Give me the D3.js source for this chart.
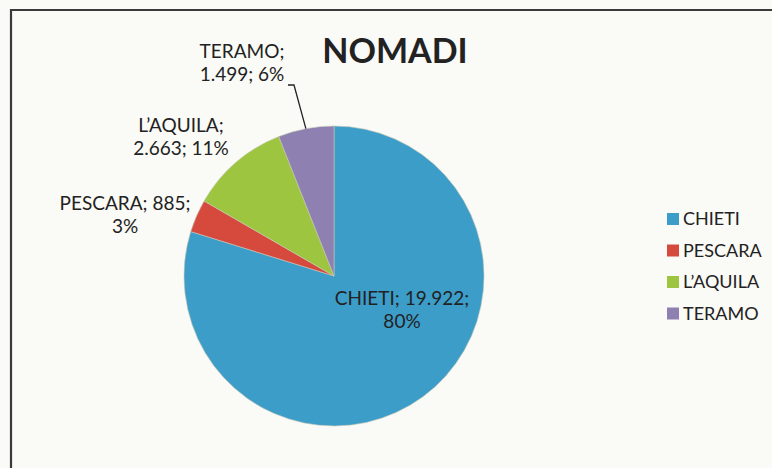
<!DOCTYPE html>
<html>
<head>
<meta charset="utf-8">
<script src="https://cdn.jsdelivr.net/npm/d3@7/dist/d3.min.js"></script>
<style>
  body { margin: 0; background: #fafaf6; }
  svg { display: block; }
  text { font-family: Lato, "Open Sans", sans-serif; fill: #222; }
</style>
</head>
<body>
<div id="the_chart"></div>
<script>
// data
var provinces = ["CHIETI", "PESCARA", "L\u2019AQUILA", "TERAMO"];
var counts = [19922, 885, 2663, 1499];
var percents = [80, 3, 11, 6]; // as printed on the chart
var colors = ["#3c9dc9", "#d64a3e", "#9ec53f", "#8e80b0"];

var w = 772;
var h = 468;
var cx = 334, cy = 276, r = 150;

// label anchors (centre of the text block, first baseline)
var labelPos = [
    { x: 402, y: 305 },
    { x: 125, y: 210 },
    { x: 181, y: 132 },
    { x: 242, y: 58 }
];

var it = d3.formatLocale({ decimal: ",", thousands: ".", grouping: [3], currency: ["", "\u20ac"] });
var fmt = it.format(",d");

var dataset = provinces.map(function (p, i) {
    return { name: p, value: counts[i], pct: percents[i], color: colors[i] };
});

var svg = d3.select("#the_chart")
    .append("svg")
    .attr("width", w)
    .attr("height", h);

// frame of the chart area (cut off by the scan)
svg.append("path")
    .attr("d", "M11," + h + "V10H" + w)
    .attr("fill", "none")
    .attr("stroke", "#3a3a3a")
    .attr("stroke-width", 2.2);

svg.append("text")
    .attr("x", 395)
    .attr("y", 63)
    .attr("text-anchor", "middle")
    .attr("font-weight", "bold")
    .attr("font-size", 34)
    .text("NOMADI");

var pie = d3.pie()
    .sort(null)
    .value(function (d) { return d.value; });

var arcs = pie(dataset);

var arc = d3.arc().innerRadius(0).outerRadius(r);
var rim = d3.arc().innerRadius(r).outerRadius(r);

var g = svg.append("g")
    .attr("transform", "translate(" + cx + "," + cy + ")");

g.selectAll("path")
    .data(arcs)
    .enter().append("path")
    .attr("d", arc)
    .attr("fill", function (d) { return d.data.color; })
    .attr("stroke", "#c8c8b8")
    .attr("stroke-width", 0.6);

// data labels
var lines = [
    ["CHIETI; " + fmt(counts[0]) + ";", percents[0] + "%"],
    ["PESCARA; " + fmt(counts[1]) + ";", percents[1] + "%"],
    ["L\u2019AQUILA;", fmt(counts[2]) + "; " + percents[2] + "%"],
    ["TERAMO;", fmt(counts[3]) + "; " + percents[3] + "%"]
];

arcs.forEach(function (d, i) {
    var t = svg.append("text")
        .attr("text-anchor", "middle")
        .attr("font-size", 19)
        .attr("fill", i == 0 ? "#1f4f6a" : "#222");
    lines[i].forEach(function (s, k) {
        t.append("tspan")
            .attr("x", labelPos[i].x)
            .attr("y", labelPos[i].y + k * 23)
            .text(s);
    });
});

// leader line for TERAMO
var tp = rim.centroid(arcs[3]);
var lx = labelPos[3].x + 46, ly = labelPos[3].y + 27;
svg.append("polyline")
    .attr("points", [[lx, ly], [lx + 6, ly], [cx + tp[0], cy + tp[1]]].join(" "))
    .attr("fill", "none")
    .attr("stroke", "#222")
    .attr("stroke-width", 1.3);

// legend
var legend = svg.selectAll(".leg")
    .data(dataset)
    .enter().append("g")
    .attr("class", "leg")
    .attr("transform", function (d, i) { return "translate(667," + (213 + i * 31.5) + ")"; });

legend.append("rect")
    .attr("width", 12)
    .attr("height", 12)
    .attr("fill", function (d) { return d.color; });

legend.append("text")
    .attr("x", 16)
    .attr("y", 12)
    .attr("font-size", 18)
    .text(function (d) { return d.name; });
</script>
</body>
</html>
